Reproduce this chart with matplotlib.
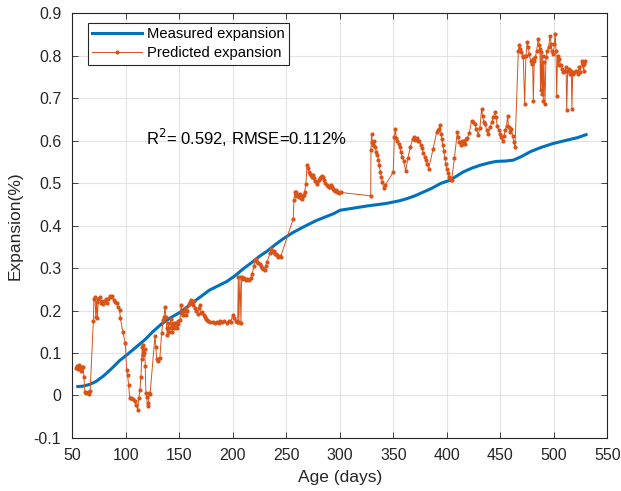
import matplotlib.pyplot as plt
from matplotlib.ticker import FixedLocator

plt.rcParams['font.family'] = ['Liberation Sans', 'DejaVu Sans']
plt.rcParams['axes.unicode_minus'] = False

# measured expansion (smooth curve)
measured_age = [55, 60, 66, 72, 79, 86, 94, 102, 110, 118, 125, 133, 141, 150, 157,
                163, 170, 178, 186, 194, 202, 210, 218, 225, 232, 240, 247, 255, 263,
                270, 278, 286, 294, 300, 310, 325, 343, 355, 362, 370, 378, 386, 394,
                403, 415, 423, 431, 440, 446, 455, 462, 470, 478, 488, 499, 512, 522, 530]
measured_exp = [0.021, 0.022, 0.026, 0.033, 0.046, 0.062, 0.082, 0.098, 0.115, 0.132,
                0.150, 0.168, 0.182, 0.195, 0.208, 0.220, 0.233, 0.248, 0.258, 0.268,
                0.282, 0.299, 0.314, 0.328, 0.340, 0.356, 0.369, 0.382, 0.393, 0.402,
                0.412, 0.420, 0.428, 0.436, 0.440, 0.446, 0.452, 0.458, 0.463, 0.470,
                0.479, 0.488, 0.499, 0.507, 0.526, 0.535, 0.542, 0.548, 0.551, 0.552,
                0.554, 0.563, 0.574, 0.584, 0.593, 0.601, 0.607, 0.614]

# predicted expansion (model output)
predicted_age = [
    53.0, 54.0, 55.0, 56.0, 57.0, 58.0, 59.0, 60.0, 60.7, 61.6, 63.0, 64.5, 65.6, 66.5,
    69.5, 70.1, 71.0, 71.8, 72.5, 73.3, 74.2, 75.5, 76.5, 77.5, 78.8, 80.0, 81.0, 82.0,
    83.5, 85.0, 86.0, 87.0, 88.5, 90.0, 91.3, 92.5, 94.0, 94.8, 97.0, 99.4,
    100.6, 101.5, 102.5, 103.5, 105.0, 106.5, 108.0, 109.5, 111.0, 112.0, 113.0, 114.0,
    114.7, 115.3, 115.8, 116.3, 117.0, 117.6, 118.0, 118.6, 119.3, 120.2, 121.0, 121.7,
    122.5, 127.1, 128.0, 128.6, 129.5, 130.2, 131.7, 133.3, 134.8, 135.6, 136.4, 137.3,
    138.0, 138.6, 139.5, 140.2, 141.0, 142.0, 142.6, 143.3, 144.1, 145.0, 145.8, 146.7,
    147.3, 148.2, 149.0, 150.5, 151.5, 152.5, 153.5, 154.5, 155.5, 156.5, 157.5, 158.8,
    159.8, 161.0, 162.2, 163.3, 164.5, 165.5, 167.0, 168.0, 169.2, 170.2, 171.0, 172.5,
    173.5, 174.5, 175.4, 177.0, 179.0, 181.0, 183.0, 185.0, 186.5, 188.0, 190.0, 192.0,
    194.0, 196.0, 198.0, 199.7, 201.0, 202.5, 203.5, 204.4, 205.0, 205.5, 206.5, 207.5,
    208.0, 209.0, 210.5, 212.0, 213.5, 215.0, 216.5, 218.0, 219.5, 220.6, 221.5, 222.5,
    223.5, 225.0, 226.0, 227.0, 228.3, 229.5, 230.5, 232.0, 234.5, 236.0, 237.0, 238.0,
    239.0, 240.5, 241.5, 242.5, 243.5, 244.5, 256.3, 257.0, 257.7, 258.5, 259.3, 260.5,
    261.5, 262.5, 263.3, 264.2, 265.0, 266.0, 267.0, 268.2, 269.2, 270.0, 271.0, 272.0,
    273.0, 274.0, 275.0, 276.0, 277.0, 278.2, 279.0, 280.0, 281.0, 282.0, 282.9, 284.0,
    285.0, 286.0, 287.5, 288.5, 289.5, 290.6, 291.5, 292.5, 293.5, 294.5, 295.5, 296.5,
    297.5, 298.4, 299.5, 300.5, 328.7, 329.0, 329.5, 330.2, 331.0, 332.0, 333.0, 334.0,
    335.0, 336.0, 336.8, 337.8, 338.8, 339.7, 340.7, 342.3, 349.8, 350.8, 351.7, 352.7,
    353.6, 354.8, 355.8, 357.0, 358.3, 359.5, 361.4, 363.5, 365.8, 368.0, 369.2, 370.5,
    371.7, 373.0, 374.2, 375.5, 376.7, 378.0, 379.2, 380.5, 381.7, 382.9, 387.0, 390.4,
    391.5, 392.5, 393.5, 394.5, 395.3, 396.0, 397.0, 398.0, 398.8, 399.7, 400.7, 401.8,
    402.7, 403.6, 404.4, 407.0, 409.7, 410.6, 411.5, 412.8, 413.7, 414.6, 415.9, 416.8,
    417.8, 419.0, 420.9, 423.0, 424.5, 426.1, 427.6, 429.2, 430.8, 432.4, 433.3, 434.5,
    435.8, 437.0, 438.6, 440.2, 441.7, 443.3, 444.9, 445.8, 447.0, 448.3, 449.5, 450.8,
    452.0, 453.3, 454.5, 455.7, 456.7, 457.6, 458.8, 460.0, 461.3, 462.6, 463.6, 466.7,
    467.6, 468.5, 469.4, 470.7, 471.3, 472.6, 473.8, 475.0, 476.0, 476.9, 478.1, 479.1,
    480.0, 480.7, 481.6, 482.6, 483.8, 485.3, 486.3, 486.9, 487.5, 488.1, 488.8, 489.4,
    490.0, 490.6, 491.6, 492.5, 493.7, 495.0, 496.3, 497.2, 498.1, 499.4, 500.3, 501.2,
    501.9, 502.5, 503.4, 504.4, 505.0, 506.2, 507.5, 508.7, 510.3, 511.3, 511.9, 512.8,
    513.7, 515.0, 516.2, 516.8, 517.5, 519.0, 520.6, 522.2, 523.7, 524.6, 525.9, 526.8,
    527.8, 528.4, 529.3]
predicted_exp = [
    0.065, 0.070, 0.062, 0.072, 0.066, 0.058, 0.068, 0.068, 0.044, 0.009, 0.006, 0.008, 0.004, 0.010,
    0.176, 0.228, 0.232, 0.185, 0.220, 0.183, 0.228, 0.232, 0.217, 0.222, 0.215, 0.222, 0.226, 0.218,
    0.228, 0.235, 0.232, 0.234, 0.225, 0.220, 0.217, 0.209, 0.202, 0.182, 0.150, 0.123,
    0.060, 0.048, 0.025, -0.006, -0.005, -0.008, -0.014, -0.022, -0.034, -0.005, 0.012, 0.044,
    0.087, 0.115, 0.095, 0.118, 0.100, 0.110, 0.070, 0.006, -0.003, -0.025, -0.018, 0.007,
    0.003, 0.140, 0.115, 0.087, 0.082, 0.085, 0.088, 0.147, 0.178, 0.185, 0.209, 0.185,
    0.160, 0.143, 0.170, 0.150, 0.160, 0.180, 0.165, 0.150, 0.170, 0.158, 0.170, 0.165,
    0.160, 0.175, 0.168, 0.177, 0.212, 0.195, 0.190, 0.200, 0.205, 0.190, 0.200, 0.215,
    0.220, 0.225, 0.212, 0.223, 0.205, 0.200, 0.193, 0.205, 0.212, 0.195, 0.197, 0.190,
    0.185, 0.180, 0.177, 0.175, 0.172, 0.173, 0.170, 0.174, 0.171, 0.176, 0.172, 0.175,
    0.171, 0.176, 0.174, 0.189, 0.183, 0.176, 0.173, 0.172, 0.280, 0.172, 0.279, 0.170,
    0.278, 0.275, 0.276, 0.272, 0.275, 0.273, 0.277, 0.285, 0.305, 0.318, 0.322, 0.315,
    0.312, 0.310, 0.305, 0.300, 0.298, 0.295, 0.305, 0.315, 0.335, 0.346, 0.338, 0.340,
    0.334, 0.332, 0.330, 0.325, 0.328, 0.326, 0.416, 0.460, 0.479, 0.470, 0.478, 0.472,
    0.468, 0.475, 0.466, 0.463, 0.470, 0.472, 0.480, 0.499, 0.542, 0.535, 0.527, 0.522,
    0.518, 0.515, 0.520, 0.512, 0.505, 0.499, 0.503, 0.508, 0.512, 0.515, 0.516, 0.514,
    0.508, 0.500, 0.496, 0.492, 0.490, 0.491, 0.495, 0.490, 0.486, 0.483, 0.481, 0.484,
    0.478, 0.479, 0.476, 0.478, 0.470, 0.577, 0.616, 0.597, 0.590, 0.600, 0.585, 0.573,
    0.565, 0.555, 0.542, 0.525, 0.514, 0.502, 0.489, 0.495, 0.526, 0.608, 0.628, 0.605,
    0.600, 0.592, 0.585, 0.573, 0.562, 0.552, 0.528, 0.560, 0.585, 0.604, 0.608, 0.602,
    0.605, 0.598, 0.600, 0.590, 0.582, 0.570, 0.562, 0.555, 0.545, 0.534, 0.580, 0.620,
    0.624, 0.628, 0.636, 0.616, 0.604, 0.590, 0.575, 0.560, 0.545, 0.533, 0.524, 0.515,
    0.512, 0.508, 0.508, 0.560, 0.620, 0.608, 0.597, 0.589, 0.600, 0.592, 0.600, 0.592,
    0.604, 0.607, 0.618, 0.647, 0.643, 0.639, 0.627, 0.614, 0.630, 0.675, 0.659, 0.643,
    0.639, 0.624, 0.616, 0.631, 0.643, 0.655, 0.667, 0.655, 0.635, 0.624, 0.616, 0.608,
    0.600, 0.612, 0.624, 0.635, 0.659, 0.631, 0.620, 0.627, 0.612, 0.596, 0.585, 0.812,
    0.824, 0.816, 0.808, 0.800, 0.796, 0.687, 0.800, 0.831, 0.820, 0.804, 0.788, 0.780,
    0.792, 0.694, 0.788, 0.796, 0.812, 0.839, 0.824, 0.816, 0.718, 0.808, 0.710, 0.800,
    0.694, 0.784, 0.687, 0.796, 0.812, 0.820, 0.847, 0.828, 0.812, 0.804, 0.828, 0.850,
    0.812, 0.706, 0.800, 0.777, 0.792, 0.777, 0.769, 0.761, 0.765, 0.773, 0.671, 0.765,
    0.769, 0.757, 0.765, 0.675, 0.757, 0.761, 0.765, 0.757, 0.773, 0.761, 0.788, 0.777,
    0.765, 0.781, 0.788]

x_ticks = [50, 100, 150, 200, 250, 300, 350, 400, 450, 500, 550]
y_ticks = [-0.1, 0, 0.1, 0.2, 0.3, 0.4, 0.5, 0.6, 0.7, 0.8, 0.9]
y_tick_labels = ['-0.1', '0', '0.1', '0.2', '0.3', '0.4', '0.5', '0.6', '0.7', '0.8', '0.9']

fig = plt.figure(figsize=(6.21, 4.91), dpi=100)
ax = fig.add_axes([0.1167, 0.108, 0.8615, 0.8652])

ax.plot(measured_age, measured_exp, color='#0072BD', linewidth=2.2,
        label='Measured expansion', zorder=3)
ax.plot(predicted_age, predicted_exp, color='#D95319', linewidth=0.7,
        marker='.', markersize=4, label='Predicted expansion', zorder=4)

ax.set_xlim(50, 550)
ax.set_ylim(-0.1, 0.9)
ax.xaxis.set_major_locator(FixedLocator(x_ticks))
ax.set_yticks(y_ticks)
ax.set_yticklabels(y_tick_labels)

ax.grid(True, color='#e3e3e3', linewidth=0.8)
ax.set_axisbelow(True)
ax.tick_params(direction='in', top=True, right=True, length=4, width=0.6,
               labelsize=11.5, colors='#262626')
ax.tick_params(axis='y', pad=8)
ax.tick_params(axis='x', pad=7)
for sp in ax.spines.values():
    sp.set_color('#262626')
    sp.set_linewidth(0.8)

ax.set_xlabel('Age (days)', fontsize=12.5, color='#262626', labelpad=5)
ax.set_ylabel('Expansion(%)', fontsize=12.5, color='#262626', labelpad=8)

ax.text(118.5, 0.607, 'R$^2$= 0.592, RMSE=0.112%', fontsize=12, va='center',
        color='black')

leg = ax.legend(loc='upper left', bbox_to_anchor=(0.029, 0.977), borderaxespad=0,
                fontsize=10.6, fancybox=False, framealpha=1, edgecolor='#262626',
                handlelength=3.4, handletextpad=0.3, borderpad=0.3, labelspacing=0.35)
leg.get_frame().set_linewidth(0.8)

fig.savefig('out.png', dpi=100)
